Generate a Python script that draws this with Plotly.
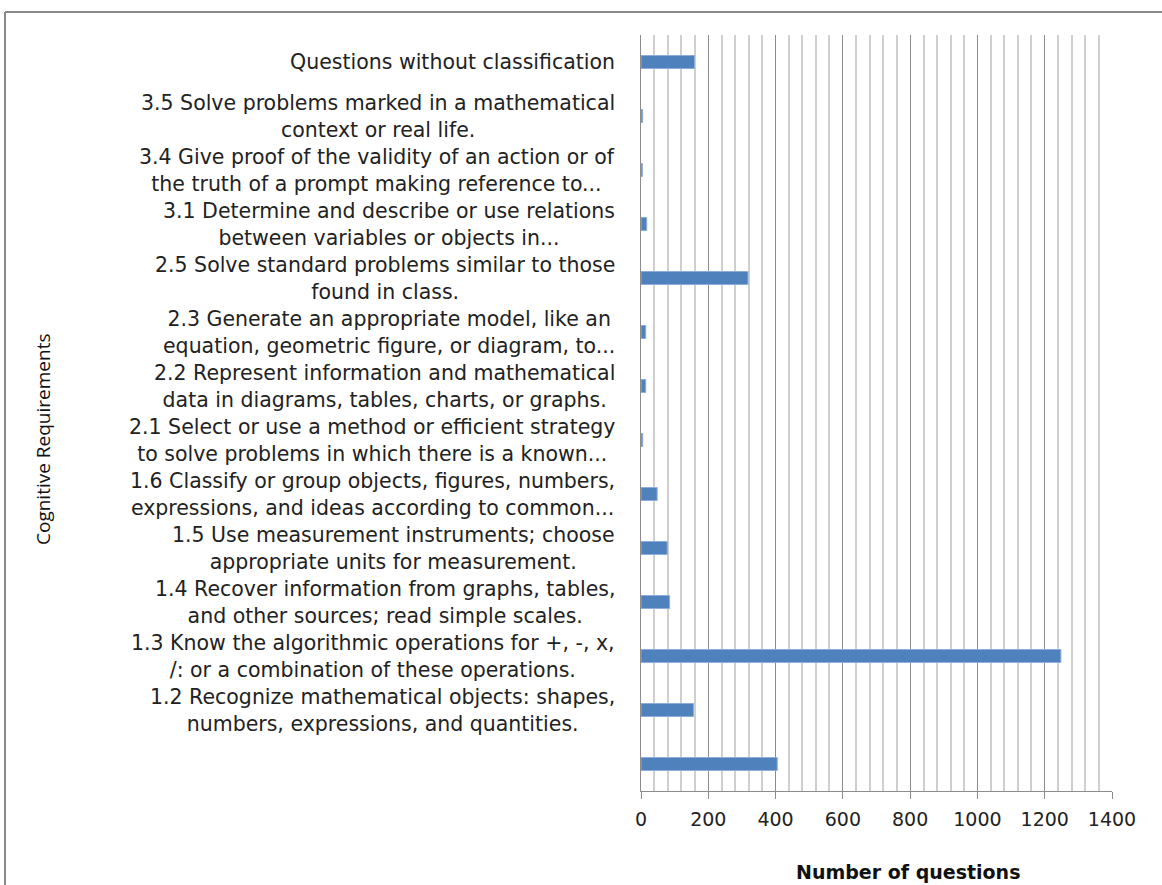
import plotly.graph_objects as go

# Categories listed bottom to top (the bottom bar has no label in the source)
categories = [
    " ",
    "1.2 Recognize mathematical objects: shapes,<br>numbers, expressions, and quantities.",
    "1.3 Know the algorithmic operations for +, -, x,<br>/: or a combination of these operations.",
    "1.4 Recover information from graphs, tables,<br>and other sources; read simple scales.",
    "1.5 Use measurement instruments; choose<br>appropriate units for measurement.",
    "1.6 Classify or group objects, figures, numbers,<br>expressions, and ideas according to common...",
    "2.1 Select or use a method or efficient strategy<br>to solve problems in which there is a known...",
    "2.2 Represent information and mathematical<br>data in diagrams, tables, charts, or graphs.",
    "2.3 Generate an appropriate model, like an<br>equation, geometric figure, or diagram, to...",
    "2.5 Solve standard problems similar to those<br>found in class.",
    "3.1 Determine and describe or use relations<br>between variables or objects in...",
    "3.4 Give proof of the validity of an action or of<br>the truth of a prompt making reference to...",
    "3.5 Solve problems marked in a mathematical<br>context or real life.",
    "Questions without classification",
]
values = [405, 156, 1248, 85, 78, 48, 5, 14, 14, 318, 17, 4, 5, 159]

x_title = "Number of questions"
y_title = "Cognitive Requirements"

W, H = 1162, 885
L, R, T, B = 641, 50, 35, 94
pw, ph = W - L - R, H - T - B

def px_to_paper_x(px):
    return (px - L) / pw

def px_to_paper_y(py):
    return (H - B - py) / ph

label_font = dict(family="DejaVu Sans", size=20.5, color="#222222")

fig = go.Figure(
    go.Bar(
        x=values,
        y=categories,
        orientation="h",
        width=0.24,
        marker=dict(color="#4F81BD", line=dict(color="#8CADDB", width=1)),
        hoverinfo="x",
    )
)

annotations = []
for cat in categories:
    annotations.append(dict(
        x=0, xref="paper", y=cat, yref="y",
        text=cat, showarrow=False, xanchor="right", yanchor="middle",
        align="center", xshift=-24, font=label_font,
    ))

annotations.append(dict(
    x=0, xref="paper", xshift=43 - L, y=px_to_paper_y(440), yref="paper",
    text=y_title, textangle=-90, showarrow=False, xanchor="center", yanchor="middle",
    font=dict(family="Open Sans", size=19, color="#111111"),
))
annotations.append(dict(
    x=px_to_paper_x(908), xref="paper", y=px_to_paper_y(872), yref="paper",
    text="<b>" + x_title + "</b>", showarrow=False, xanchor="center", yanchor="middle",
    font=dict(family="DejaVu Sans", size=19, color="#111111"),
))

shapes = [
    dict(type="line", xref="paper", yref="paper",
         x0=px_to_paper_x(5), x1=px_to_paper_x(1175),
         y0=px_to_paper_y(12), y1=px_to_paper_y(12),
         line=dict(color="#8a8a8a", width=2)),
    dict(type="line", xref="paper", yref="paper",
         x0=px_to_paper_x(5), x1=px_to_paper_x(5),
         y0=px_to_paper_y(12), y1=px_to_paper_y(900),
         line=dict(color="#8a8a8a", width=2)),
]

fig.update_layout(
    width=W, height=H,
    margin=dict(l=L, r=R, t=T, b=B, autoexpand=False),
    paper_bgcolor="white", plot_bgcolor="white",
    showlegend=False,
    annotations=annotations,
    shapes=shapes,
)
fig.update_xaxes(
    range=[0, 1400], dtick=200, tick0=0,
    showgrid=True, gridcolor="#8c8c8c", gridwidth=1,
    minor=dict(dtick=40, tick0=0, showgrid=True, gridcolor="#cfcfcf", gridwidth=1.5, ticks=""),
    ticks="outside", ticklen=7, tickcolor="#8c8c8c",
    showline=True, linecolor="#8c8c8c", linewidth=1,
    tickfont=dict(family="DejaVu Sans", size=19, color="#222222"),
    ticklabelstandoff=4,
    zeroline=False, fixedrange=True,
)
fig.update_yaxes(
    type="category", categoryorder="array", categoryarray=categories,
    range=[-0.5, len(categories) - 0.5],
    showticklabels=False, showgrid=False, ticks="",
    showline=True, linecolor="#8c8c8c", linewidth=1,
    fixedrange=True,
)

fig.write_html(
    "out.html",
    config={"displayModeBar": False},
    post_script="document.body.style.margin='0';document.body.style.padding='0';",
)
